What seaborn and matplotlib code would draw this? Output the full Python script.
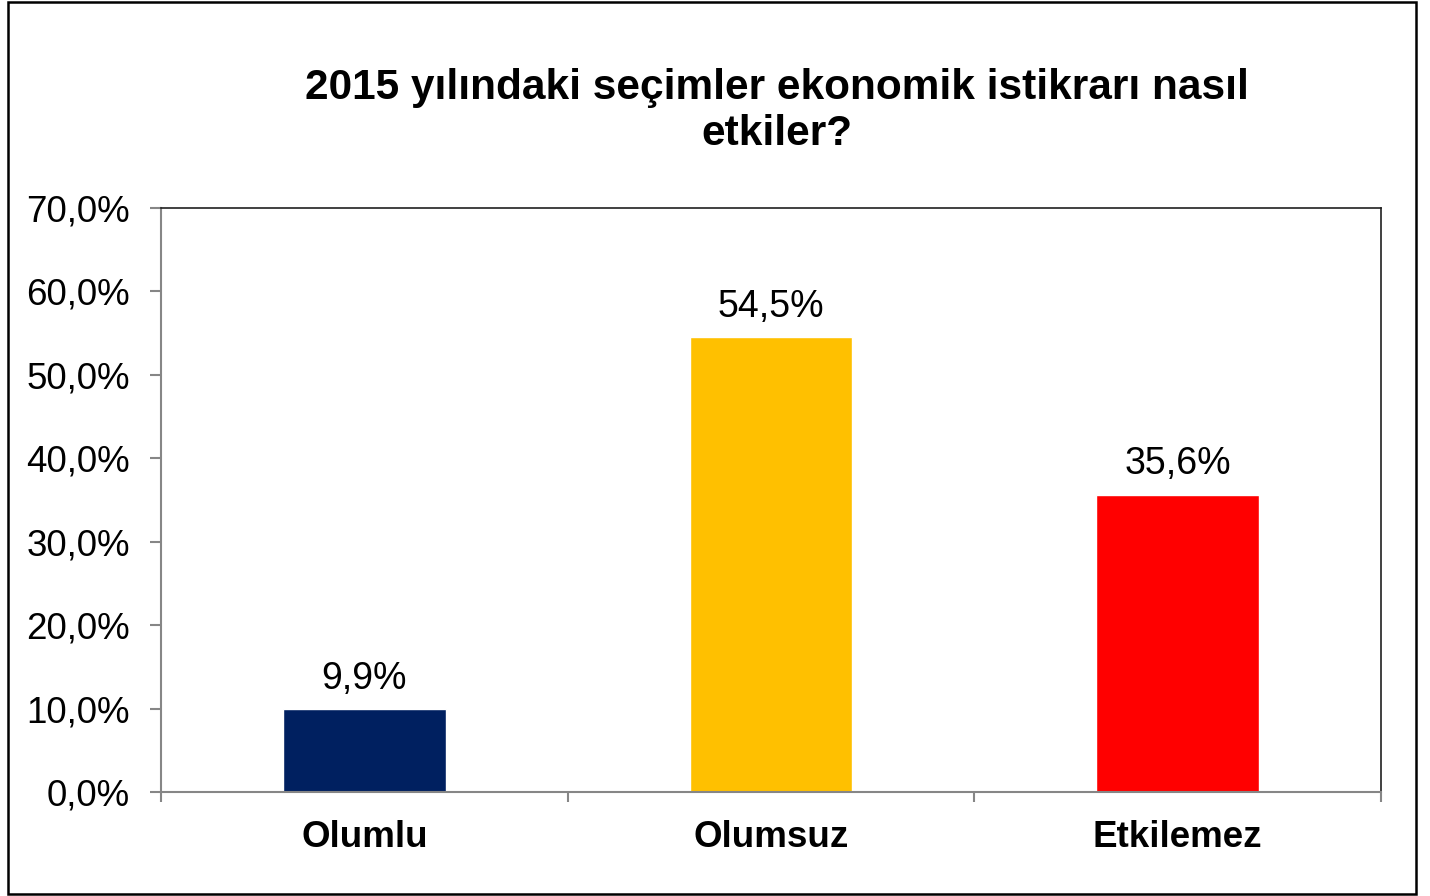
import matplotlib
matplotlib.use('Agg')
import matplotlib.pyplot as plt
import seaborn as sns
import pandas as pd
from matplotlib.patches import Rectangle
from matplotlib.ticker import FuncFormatter, FixedLocator

# veriler
categories = ['Olumlu', 'Olumsuz', 'Etkilemez']
values = [9.9, 54.5, 35.6]
bar_colors = ['#002060', '#FFC000', '#FF0000']
title_text = '2015 yılındaki seçimler ekonomik istikrarı nasıl\netkiler?'

sns.set_theme(style='white')
plt.rcParams['font.family'] = ['Liberation Sans', 'DejaVu Sans']
plt.rcParams['text.color'] = 'black'
plt.rcParams['xtick.labelcolor'] = 'black'
plt.rcParams['ytick.labelcolor'] = 'black'

df = pd.DataFrame({'kategori': categories, 'oran': values})

fig = plt.figure(figsize=(14.3, 8.96), dpi=100)
ax = fig.add_axes([161 / 1430, 1 - 792 / 896, (1381 - 161) / 1430, (792 - 208) / 896])

sns.barplot(data=df, x='kategori', y='oran', hue='kategori', palette=bar_colors,
            width=0.4, saturation=1, legend=False, ax=ax)

ax.set_xlim(-0.5, 2.5)
ax.set_ylim(0, 70)
ax.set_yticks(range(0, 71, 10))
ax.yaxis.set_major_formatter(FuncFormatter(lambda v, p: f'{v:.1f}%'.replace('.', ',')))
ax.set_xlabel('')
ax.set_ylabel('')

# değer etiketleri
for i, v in enumerate(values):
    ax.annotate(f'{v:.1f}%'.replace('.', ','), (i, v), xytext=(0, 22),
                textcoords='offset points', ha='center', va='center', fontsize=27)

# eksen stili
for side in ['left', 'bottom']:
    ax.spines[side].set_color('#868686')
    ax.spines[side].set_linewidth(1.5)
for side in ['top', 'right']:
    ax.spines[side].set_color('#202020')
    ax.spines[side].set_linewidth(1.2)

ax.tick_params(axis='y', which='major', direction='out', length=8, width=1.5,
               color='#868686', labelsize=26.5, pad=14.5, left=True)
ax.tick_params(axis='x', which='major', length=0, pad=20, labelsize=26.5)
ax.xaxis.set_minor_locator(FixedLocator([-0.5, 0.5, 1.5, 2.5]))
ax.tick_params(axis='x', which='minor', direction='out', length=7, width=1.5,
               color='#868686', bottom=True)
for lbl in ax.get_xticklabels():
    lbl.set_fontweight('bold')

fig.text(777 / 1430, 1 - 111 / 896, title_text, ha='center', va='center',
         fontsize=30.5, fontweight='bold', linespacing=1.22)

# dış çerçeve
fig.patches.append(Rectangle((8 / 1430, 2 / 896), 1408 / 1430, 892 / 896,
                             transform=fig.transFigure, fill=False,
                             edgecolor='black', linewidth=1.8))

fig.savefig('out.png', dpi=100)
